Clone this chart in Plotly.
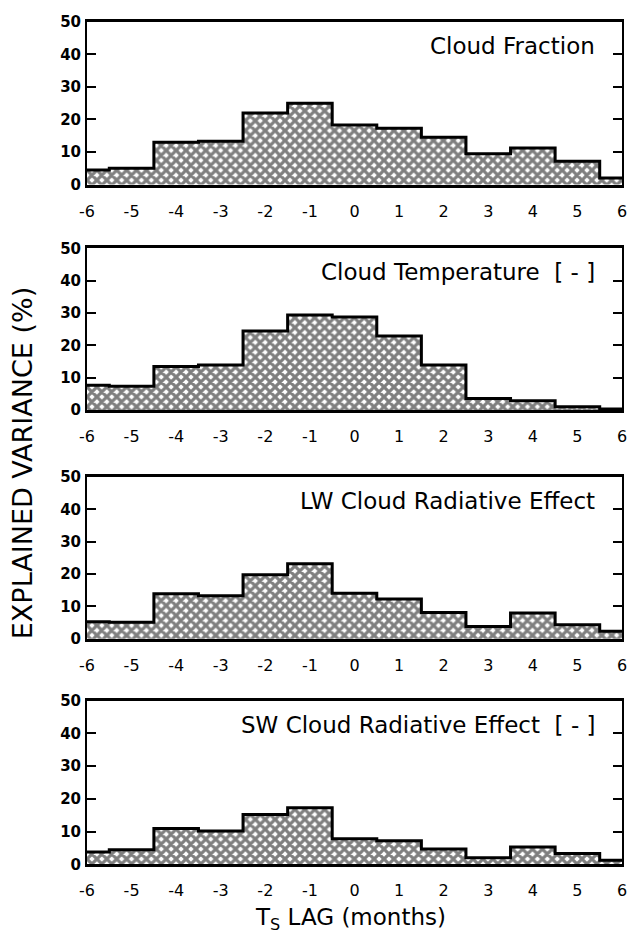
import plotly.graph_objects as go

lags = [-6, -5, -4, -3, -2, -1, 0, 1, 2, 3, 4, 5, 6]
x_tick_labels = ["-6", "-5", "-4", "-3", "-2", "-1", "0", "1", "2", "3", "4", "5", "6"]
y_tick_vals = [0, 10, 20, 30, 40, 50]

cloud_fraction = [4.5, 5.0, 13.0, 13.3, 22.0, 25.0, 18.3, 17.3, 14.5, 9.5, 11.2, 7.2, 2.0]
cloud_temperature = [7.7, 7.4, 13.5, 14.0, 24.5, 29.4, 28.8, 22.9, 14.0, 3.6, 2.9, 1.1, 0.4]
lw_cre = [5.3, 5.1, 13.9, 13.3, 19.8, 23.2, 14.1, 12.3, 8.1, 3.8, 8.0, 4.3, 2.3]
sw_cre = [3.8, 4.5, 11.0, 10.2, 15.2, 17.3, 7.8, 7.2, 4.7, 2.0, 5.3, 3.3, 1.3]

panel_titles = ["Cloud Fraction", "Cloud Temperature  [ - ]",
                "LW Cloud Radiative Effect", "SW Cloud Radiative Effect  [ - ]"]
series = [cloud_fraction, cloud_temperature, lw_cre, sw_cre]

W, H = 628, 947
ML, MR = 87, 6
PW = W - ML - MR
# panel pixel extents (top, bottom)
panels_px = [(13, 179), (244, 409), (477, 642), (705, 872)]

FONT = "DejaVu Sans"
fig = go.Figure()

for i, (vals, title) in enumerate(zip(series, panel_titles)):
    n = i + 1
    xa = "x" if n == 1 else f"x{n}"
    ya = "y" if n == 1 else f"y{n}"
    fig.add_trace(go.Bar(
        x=lags, y=vals, width=1.0, xaxis=xa, yaxis=ya,
        marker=dict(color="white", line=dict(width=0),
                    pattern=dict(shape="x", size=7, solidity=0.7,
                                 fgcolor="black", bgcolor="white")),
        showlegend=False, hoverinfo="skip"))
    fig.add_trace(go.Scatter(
        x=lags, y=vals, xaxis=xa, yaxis=ya, mode="lines",
        line=dict(shape="hvh", color="black", width=3),
        showlegend=False, hoverinfo="skip"))
    top, bot = panels_px[i]
    dom = [1 - bot / H, 1 - top / H]
    xkey = "xaxis" if n == 1 else f"xaxis{n}"
    ykey = "yaxis" if n == 1 else f"yaxis{n}"
    fig.layout[xkey] = dict(
        domain=[0, 1], range=[-6, 6], anchor=ya,
        tickmode="array", tickvals=lags, ticktext=x_tick_labels,
        ticks="", showgrid=False, zeroline=False,
        showline=True, linecolor="black", linewidth=2.5, mirror=True,
        tickfont=dict(family=FONT, size=16, color="black"),
        ticklabelstandoff=10)
    fig.layout[ykey] = dict(
        domain=dom, range=[0, 50], anchor=xa,
        tickmode="array", tickvals=y_tick_vals,
        ticks="inside", ticklen=9, tickwidth=2, tickcolor="black",
        showgrid=False, zeroline=False,
        showline=True, linecolor="black", linewidth=2, mirror="ticks",
        tickfont=dict(family=FONT, size=15, color="black", weight="bold"),
        ticklabelstandoff=1)
    fig.add_annotation(
        x=5.45, y=42.6, xref=xa, yref=ya, text=title, showarrow=False,
        xanchor="right", yanchor="middle",
        font=dict(family=FONT, size=23, color="black"))

fig.add_annotation(
    x=(22 - ML) / PW, y=1 - 463 / H, xref="paper", yref="paper",
    text="EXPLAINED VARIANCE (%)", textangle=-90, showarrow=False,
    xanchor="center", yanchor="middle",
    font=dict(family=FONT, size=27, color="black"))
fig.add_annotation(
    x=(350 - ML) / PW, y=1 - 928 / H, xref="paper", yref="paper",
    text="T<sub>S</sub> LAG (months)", showarrow=False,
    xanchor="center", yanchor="middle",
    font=dict(family=FONT, size=23, color="black"))

fig.update_layout(
    width=W, height=H, paper_bgcolor="white", plot_bgcolor="white",
    margin=dict(l=ML, r=MR, t=0, b=0), bargap=0)

fig.write_html("out.html")
